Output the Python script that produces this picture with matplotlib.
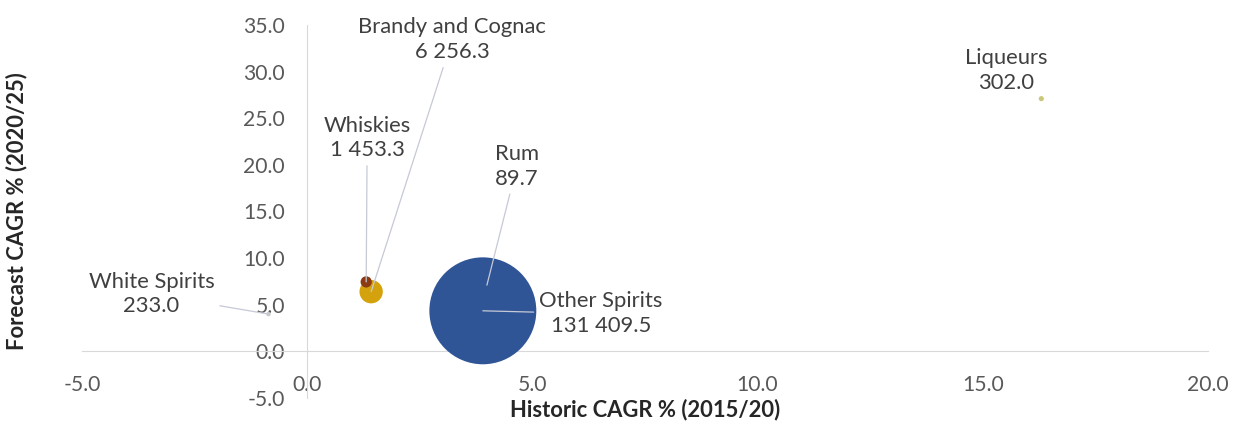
import matplotlib
matplotlib.use("Agg")
import matplotlib.pyplot as plt
import numpy as np

plt.rcParams['font.family'] = ['Lato', 'DejaVu Sans']
plt.rcParams['axes.unicode_minus'] = False

# data
categories = ['Other Spirits', 'Rum', 'Brandy and Cognac', 'Whiskies', 'White Spirits', 'Liqueurs']
value_labels = ['131 409.5', '89.7', '6 256.3', '1 453.3', '233.0', '302.0']
market_size = [131409.5, 89.7, 6256.3, 1453.3, 233.0, 302.0]
historic_cagr = [3.90, 3.99, 1.42, 1.31, -0.86, 16.3]
forecast_cagr = [4.35, 7.10, 6.40, 7.45, 4.00, 27.1]

colors = ['#2f5597', '#ffc000', '#d4a20c', '#8b3a12', '#c9c9c9', '#c8c878']
# label offsets in pixels (x, y up) and whether a leader line is drawn
label_offsets = [(118, -3), (30, 119), (81, 252), (1, 144), (-117, 20), (-35, 28)]
leaders = [True, True, True, True, True, False]

fig = plt.figure(figsize=(12.33, 4.30), dpi=100)
ax = fig.add_axes([0.0665, 0.0744, 0.9797 - 0.0665, 0.9419 - 0.0744])

max_s = 77.0 ** 2
sizes = [max_s * v / max(market_size) for v in market_size]
# small Rum bubble sits under the big one
order = [1, 0, 2, 3, 4, 5]
for i in order:
    ax.scatter(historic_cagr[i], forecast_cagr[i], s=sizes[i], c=colors[i],
               edgecolors='none', zorder=3)

for i, name in enumerate(categories):
    dx, dy = label_offsets[i]
    props = None
    if leaders[i]:
        props = dict(arrowstyle='-', color='#c6c9d6', lw=0.9, shrinkA=2, shrinkB=0)
    ax.annotate(name + '\n' + value_labels[i],
                xy=(historic_cagr[i], forecast_cagr[i]),
                xytext=(dx, dy), textcoords='offset pixels',
                ha='center', va='center', fontsize=15.8, color='#404040',
                linespacing=1.3, arrowprops=props, zorder=5)

ax.set_xlim(-5, 20)
ax.set_ylim(-5, 35)
ax.set_xticks(np.arange(-5, 21, 5))
ax.set_yticks(np.arange(-5, 36, 5))
ax.xaxis.set_major_formatter(matplotlib.ticker.FormatStrFormatter('%.1f'))
ax.yaxis.set_major_formatter(matplotlib.ticker.FormatStrFormatter('%.1f'))

for side in ['top', 'right']:
    ax.spines[side].set_visible(False)
ax.spines['left'].set_position(('data', 0))
ax.spines['bottom'].set_position(('data', 0))
ax.spines['left'].set_color('#d9d9d9')
ax.spines['bottom'].set_color('#d9d9d9')
ax.tick_params(length=0, labelsize=15.2, labelcolor='#595959')
ax.tick_params(axis='y', pad=16)
ax.tick_params(axis='x', pad=17)

ax.text(0.5, -0.032, 'Historic CAGR % (2015/20)', transform=ax.transAxes,
        ha='center', va='center', fontsize=15.8, fontweight='bold', color='#262626')
ax.text(-0.058, 0.5, 'Forecast CAGR % (2020/25)', transform=ax.transAxes,
        ha='center', va='center', rotation=90, fontsize=15.8, fontweight='bold',
        color='#262626')

fig.savefig('out.png', dpi=100)
